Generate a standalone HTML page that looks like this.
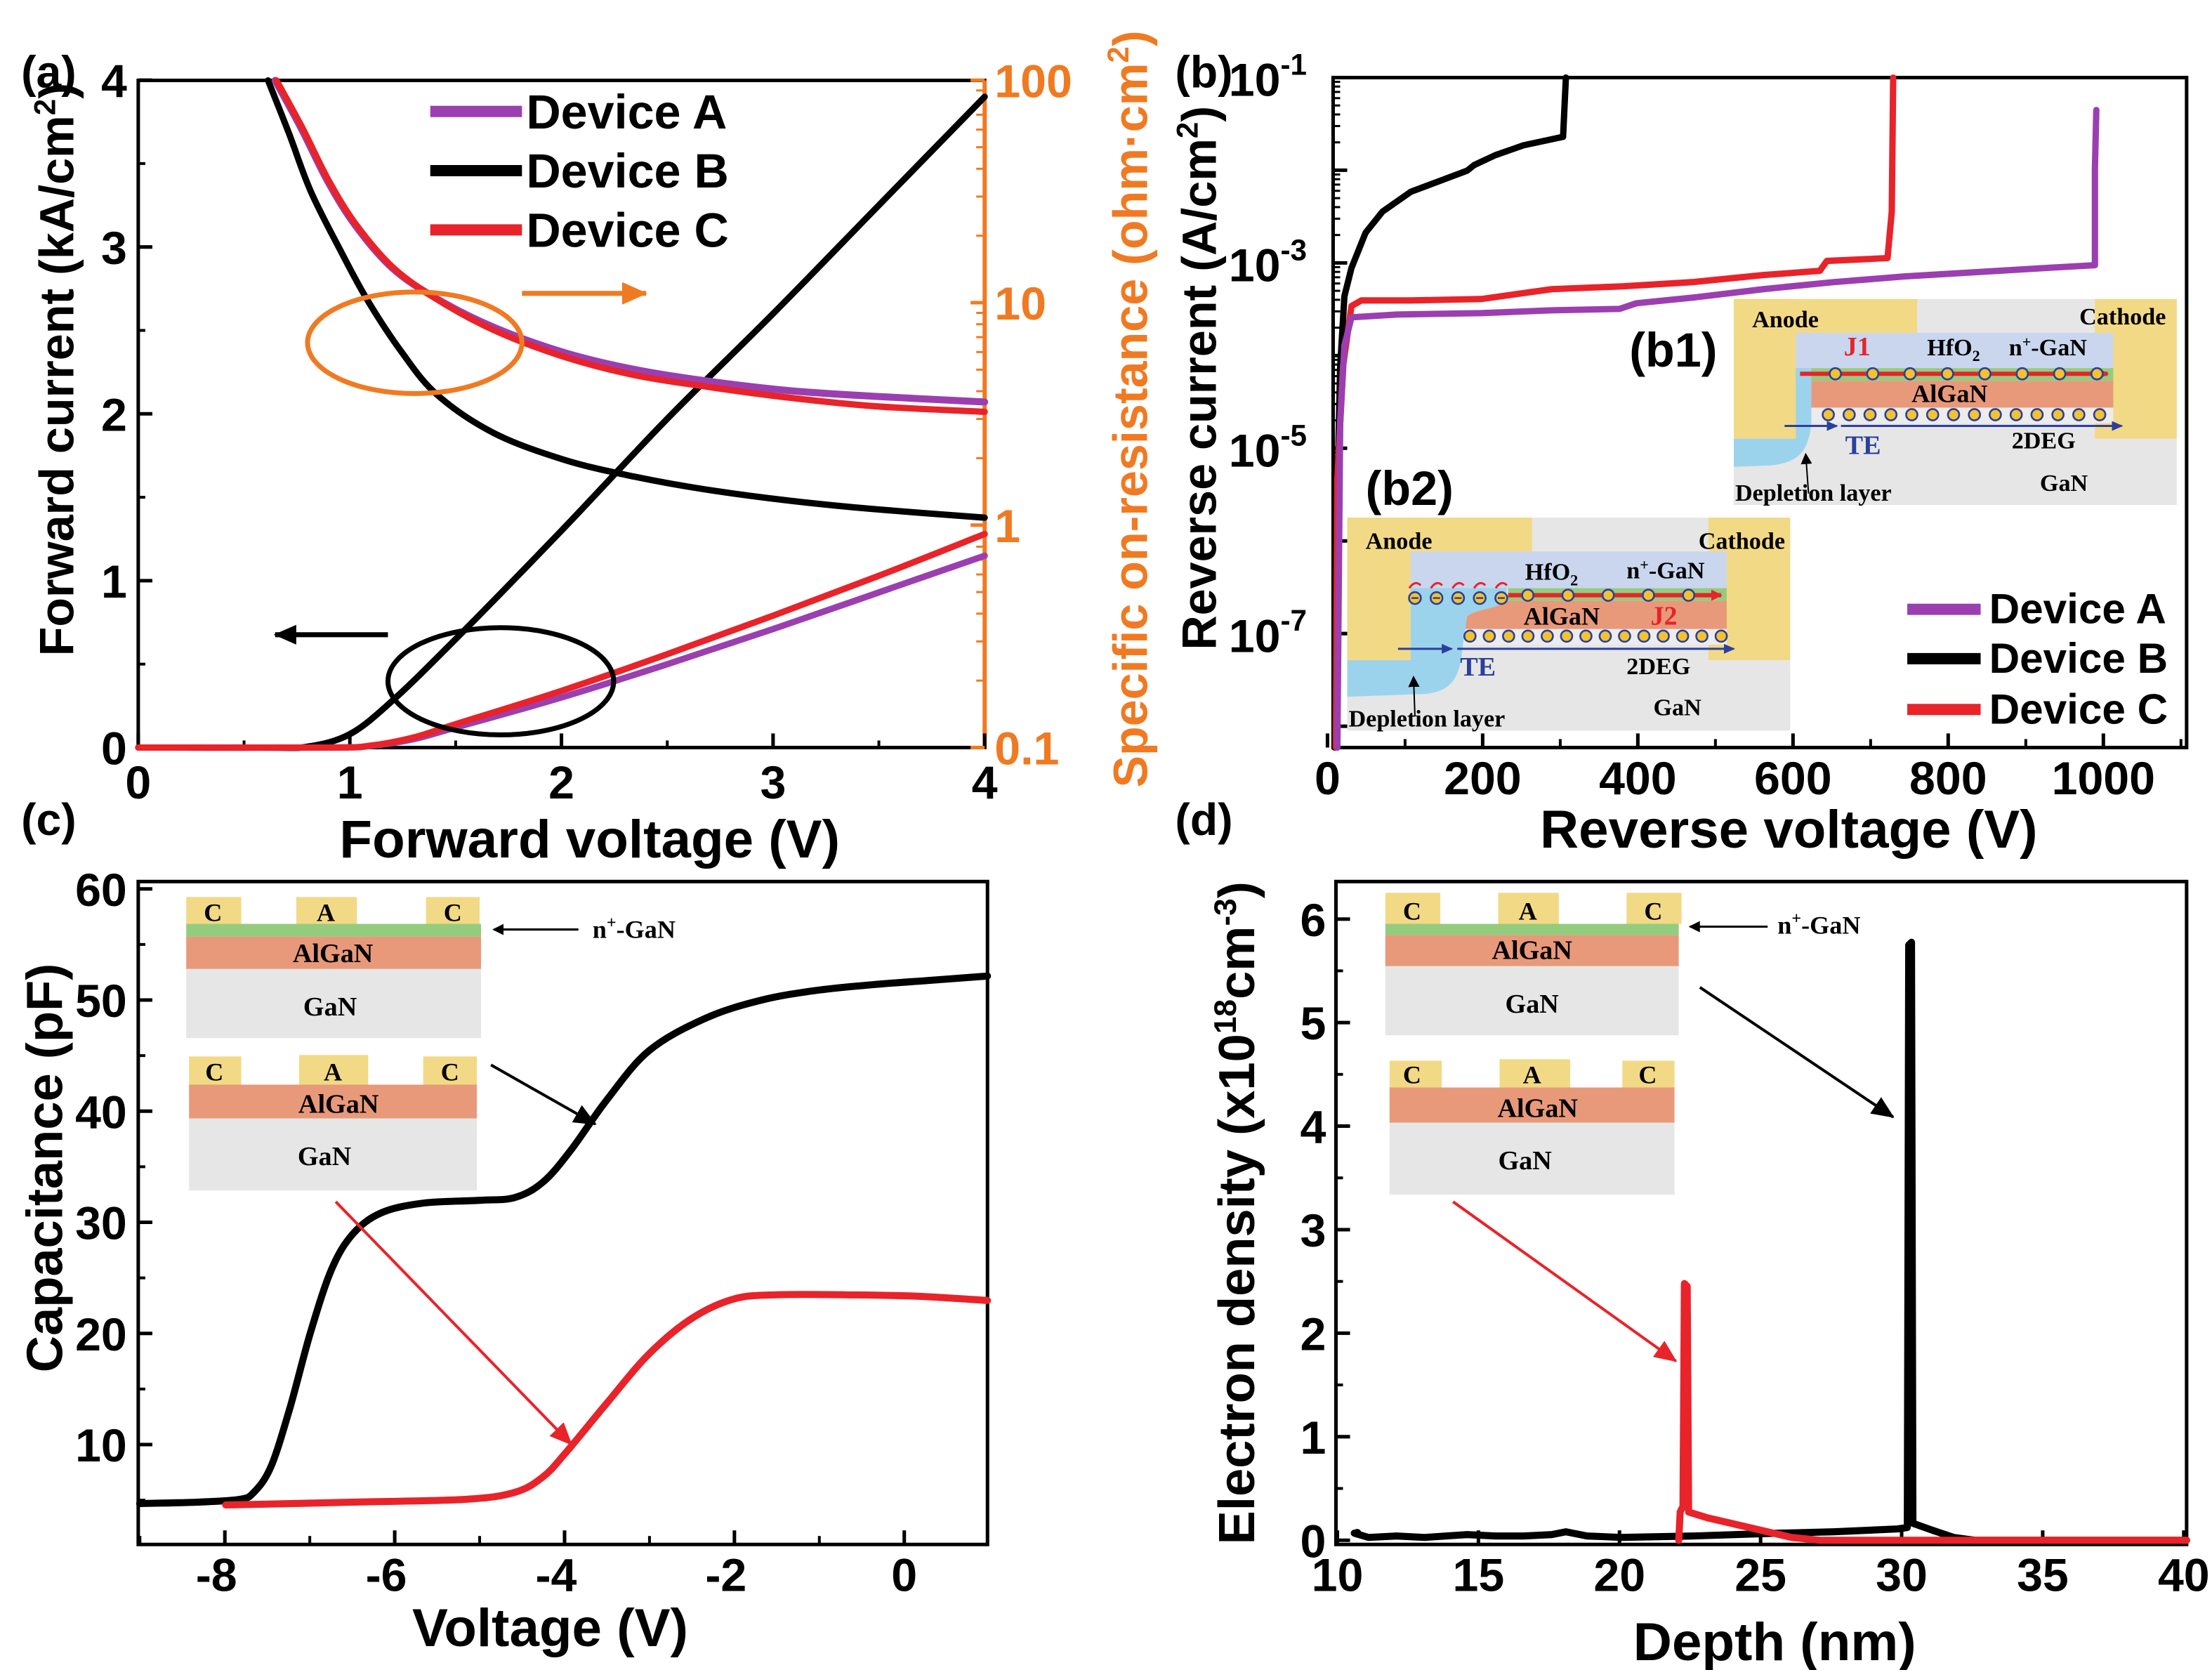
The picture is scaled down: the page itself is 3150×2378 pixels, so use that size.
<!DOCTYPE html>
<html><head><meta charset="utf-8"><style>
html,body{margin:0;padding:0;background:#fff;}
svg{display:block;}
.t{font-family:"Liberation Sans",sans-serif;font-weight:bold;}
.s{font-family:"Liberation Serif",serif;font-weight:bold;}
</style></head><body>
<svg id="svg" width="3150" height="2378" viewBox="0 0 1568 1184" preserveAspectRatio="none" xmlns="http://www.w3.org/2000/svg">
<defs>
<marker id="ak" markerWidth="8" markerHeight="8" refX="7" refY="4" orient="auto" markerUnits="userSpaceOnUse"><path d="M0,0 L8,4 L0,8 z" fill="#000"/></marker>
<marker id="akb" markerWidth="16" markerHeight="14" refX="15" refY="7" orient="auto" markerUnits="userSpaceOnUse"><path d="M0,0 L16,7 L0,14 z" fill="#000"/></marker>
<marker id="ar" markerWidth="16" markerHeight="14" refX="15" refY="7" orient="auto" markerUnits="userSpaceOnUse"><path d="M0,0 L16,7 L0,14 z" fill="#e8232a"/></marker>
<marker id="ao" markerWidth="18" markerHeight="16" refX="17" refY="8" orient="auto" markerUnits="userSpaceOnUse"><path d="M0,0 L18,8 L0,16 z" fill="#f07a22"/></marker>
<marker id="ab" markerWidth="8" markerHeight="7" refX="7" refY="3.5" orient="auto" markerUnits="userSpaceOnUse"><path d="M0,0 L8,3.5 L0,7 z" fill="#2b3f9e"/></marker>
<marker id="arr" markerWidth="8" markerHeight="8" refX="7" refY="4" orient="auto" markerUnits="userSpaceOnUse"><path d="M0,0 L8,4 L0,8 z" fill="#e8232a"/></marker>
</defs>
<g id="g"></g>
</svg>
<script>
var g=document.getElementById('g');var h='';
function cr(p){var d='M'+p[0][0]+','+p[0][1];for(var i=0;i<p.length-1;i++){var p0=p[i-1]||p[i],p1=p[i],p2=p[i+1],p3=p[i+2]||p2;
d+=' C'+(p1[0]+(p2[0]-p0[0])/6).toFixed(1)+','+(p1[1]+(p2[1]-p0[1])/6).toFixed(1)+' '+(p2[0]-(p3[0]-p1[0])/6).toFixed(1)+','+(p2[1]-(p3[1]-p1[1])/6).toFixed(1)+' '+p2[0]+','+p2[1];}return d;}
function path(d,c,w,extra){h+='<path d="'+d+'" fill="none" stroke="'+c+'" stroke-width="'+w+'" stroke-linejoin="round" stroke-linecap="round" '+(extra||'')+'/>';}
function txt(x,y,s,sz,cls,anc,col,extra){h+='<text x="'+x+'" y="'+y+'" font-size="'+sz+'" class="'+cls+'" text-anchor="'+(anc||'start')+'" fill="'+(col||'#000')+'" '+(extra||'')+'>'+s+'</text>';}
function rect(x,y,w,hh,f,extra){h+='<rect x="'+x+'" y="'+y+'" width="'+w+'" height="'+hh+'" fill="'+f+'" '+(extra||'')+'/>';}
function line(x1,y1,x2,y2,c,w,extra){h+='<line x1="'+x1+'" y1="'+y1+'" x2="'+x2+'" y2="'+y2+'" stroke="'+c+'" stroke-width="'+w+'" '+(extra||'')+'/>';}
var PU='#9b3fb0',RD='#e8232a',OR='#f07a22',K='#000';
var TS=33,LS=38,YS=34;

/* ---------- Panel (a) ---------- */
h+='<rect x="98" y="57" width="600" height="473" fill="none" stroke="#000" stroke-width="2.5"/>';
line(698,57,698,530,OR,3);
for(var i=0;i<=4;i++){var y=530-118.3*i;line(98,y,108,y,K,2.5);txt(90,y+12,i,TS,'t','end');}
for(var i=0;i<=8;i++){var y=530-59.15*i;line(98,y,103,y,K,2);}
for(var i=0;i<=4;i++){var x=98+150*i;line(x,530,x,520,K,2.5);txt(x,566,i,TS,'t','middle');}
for(var i=0;i<8;i++){var x=98+75*i;line(x,530,x,525,K,2);}
var rl=['0.1','1','10','100'];
for(var d=0;d<4;d++){var y=530-157.7*d;line(698,y,688,y,OR,2.5);txt(705,y+12,rl[d],TS,'t','start',OR);
 if(d<3)for(var m=2;m<10;m++){var yy=y-157.7*Math.log10(m);line(698,yy,692,yy,OR,1.5);}}
function px(v){return 98+150*v;} function py(i){return 530-118.3*i;}
function conv(a){return a.map(function(q){return [+px(q[0]).toFixed(1),+py(q[1]).toFixed(1)];});}
path(cr(conv([[0,0],[0.6,0],[0.8,0.005],[1.0,0.08],[1.2,0.28],[1.5,0.65],[2,1.3],[2.5,1.97],[3,2.6],[3.5,3.25],[4,3.9]])),K,4.5);
path(cr(conv([[0,0],[0.9,0],[1.1,0.01],[1.3,0.05],[1.5,0.12],[2,0.3],[2.5,0.5],[3,0.71],[3.5,0.93],[4,1.15]])),PU,4.5);
path(cr(conv([[0,0],[0.9,0],[1.1,0.012],[1.3,0.06],[1.5,0.14],[2,0.34],[2.5,0.56],[3,0.79],[3.5,1.03],[4,1.28]])),RD,4.5);
path(cr([[190,57],[205,95],[220,135],[240,175],[260,212],[285,250],[310,280],[350,307],[400,326],[450,338],[500,347],[560,355],[620,361],[698,367]]),K,4.5);
path(cr([[195,57],[213,90],[232,128],[252,160],[278,190],[310,212],[350,232],[400,250],[450,262],[500,270],[560,277],[620,281],[698,285]]),PU,5);
path(cr([[196,57],[214,90],[233,128],[253,160],[279,190],[311,213],[350,234],[400,253],[450,266],[500,274],[560,282],[620,288],[698,292]]),RD,4.5);
h+='<ellipse cx="294" cy="243" rx="76" ry="36" fill="none" stroke="'+OR+'" stroke-width="3.5"/>';
line(370,208,458,208,OR,3.5,'marker-end="url(#ao)"');
h+='<ellipse cx="355" cy="483" rx="80" ry="38" fill="none" stroke="#000" stroke-width="3.5"/>';
line(275,450,195,450,K,3.5,'marker-end="url(#akb)"');
var la=[[PU,'Device A',79],[K,'Device B',121],[RD,'Device C',163]];
la.forEach(function(l){line(305,l[2],370,l[2],l[0],8);txt(373,l[2]+12,l[1],34,'t');});
txt(15,62,'(a)',32,'t');
txt(418,608,'Forward voltage (V)',LS,'t','middle');
txt(0,0,'Forward current (kA/cm<tspan font-size="21" dy="-13">2</tspan><tspan dy="13">)</tspan>',YS,'t','middle','#000','transform="translate(52,262) rotate(-90)"');
txt(0,0,'Specific on-resistance (ohm·cm<tspan font-size="21" dy="-13">2</tspan><tspan dy="13">)</tspan>',YS,'t','middle',OR,'transform="translate(813,290) rotate(-90)"');

/* ---------- Panel (b) ---------- */
h+='<rect x="945" y="55" width="605" height="475" fill="none" stroke="#000" stroke-width="2.5"/>';
var dec=65.7;
var bl=['-1','-3','-5','-7'];
for(var d=0;d<4;d++){var y=55+2*dec*d;txt(871,y+13,'10<tspan font-size="21" dy="-15">'+bl[d]+'</tspan>',TS,'t','start');}
for(var d=-1;d<8;d++){var y0=55+dec*d;line(945,y0,955,y0,K,2.5);for(var m=2;m<10;m++){var yy=y0+dec-dec*Math.log10(m);if(yy<530&&yy>55)line(945,yy,950,yy,K,1.5);}}
function bx(v){return 941+0.55*v;}
for(var v=0;v<=1000;v+=200){var x=bx(v);line(x,530,x,520,K,2.5);txt(x,563,v,TS,'t','middle');}
for(var v=100;v<=1100;v+=200){var x=bx(v);if(x<1550)line(x,530,x,524,K,2);}
path('M946,530 L948,350 L950,260 L953,210 L958,190 L968,165 L980,150 L1000,136 L1040,121 L1045,117 L1060,110 L1080,103 L1108,97 L1110,55',K,4.5);
path('M947,530 L948,340 L952,260 L958,217 L965,213 L1000,213 L1050,212 L1100,205 L1150,203 L1200,200 L1250,195 L1290,192 L1295,185 L1338,183 L1341,150 L1342,55',RD,4.5);
path('M948,530 L950,300 L953,245 L958,225 L990,223 L1050,222 L1100,220 L1148,219 L1160,215 L1200,211 L1250,205 L1300,200 L1350,196 L1400,193 L1450,190 L1485,188 L1485,120 L1486,78',PU,4.5);
var lb=[[PU,'Device A',432],[K,'Device B',467],[RD,'Device C',503]];
lb.forEach(function(l){line(1352,l[2],1404,l[2],l[0],8);txt(1410,l[2]+10,l[1],30,'t');});
txt(833,62,'(b)',32,'t');
txt(1268,601,'Reverse voltage (V)',LS,'t','middle');
txt(0,0,'Reverse current (A/cm<tspan font-size="21" dy="-13">2</tspan><tspan dy="13">)</tspan>',YS,'t','middle','#000','transform="translate(862,268) rotate(-90)"');

var GO='#f2d985',GR='#e6e6e6',LB='#c9d6ee',GN='#94cc7e',AL='#e8997a',DB='#9bd3ec';
rect(1229,212,314,146,GR);
rect(1229,212,130,24,GO);rect(1229,212,44,99,GO);
rect(1485,212,58,99,GO);
rect(1273,236,225,25,LB);
rect(1273,261,225,9,GN);
rect(1284,270,214,19,AL);
rect(1284,289,214,11,'#ececec');
h+='<path d="M1229,311 L1273,311 L1273,261 L1284,261 L1284,300 C1282,320 1275,328 1255,330 L1229,331 Z" fill="'+DB+'"/>';
line(1276,265,1494,265,RD,3,'marker-end="url(#arr)"');
for(var i=0;i<8;i++){h+='<circle cx="'+(1301+i*26.5)+'" cy="265" r="4" fill="#f2c230" stroke="#2b3f9e" stroke-width="1.3"/>';}
for(var i=0;i<14;i++){h+='<circle cx="'+(1296+i*14.8)+'" cy="294" r="4" fill="#f2c230" stroke="#2b3f9e" stroke-width="1.3"/>';}
line(1265,302,1302,302,'#2b3f9e',1.5,'marker-end="url(#ab)"');
line(1305,302,1504,302,'#2b3f9e',1.5,'marker-end="url(#ab)"');
line(1282,350,1280,322,K,1,'marker-end="url(#ak)"');
txt(1242,232,'Anode',17,'s');txt(1474,230,'Cathode',17,'s');
txt(1307,252,'J1',19,'s','start',RD);txt(1366,252,'HfO<tspan font-size="11" dy="4">2</tspan>',17,'s');
txt(1424,252,'n<tspan font-size="11" dy="-6">+</tspan><tspan dy="6">-GaN</tspan>',17,'s');
txt(1355,285,'AlGaN',18,'s');txt(1308,322,'TE',19,'s','start','#2b3f9e');txt(1426,318,'2DEG',17,'s');
txt(1446,348,'GaN',17,'s');txt(1230,355,'Depletion layer',17,'s');
txt(1155,260,'(b1)',34,'t');
rect(955,367,314,151,GR);
rect(955,367,131,24,GO);rect(955,367,45,101,GO);
rect(1211,367,58,101,GO);
rect(1000,391,224,26,LB);
rect(1069,417,155,9,GN);
h+='<path d="M1037,446 L1040,437 C1045,432 1060,432 1068,426 L1224,426 L1224,446 Z" fill="'+AL+'"/>';
rect(1037,446,187,11,'#ececec');
h+='<path d="M955,468 L1000,468 L1000,417 L1068,417 L1068,426 C1060,432 1045,432 1040,437 L1037,457 C1035,480 1030,490 1010,492 L955,494 Z" fill="'+DB+'"/>';
line(1069,422,1220,422,RD,3,'marker-end="url(#arr)"');
for(var i=0;i<5;i++){var cc=1003+i*15.3;h+='<circle cx="'+cc+'" cy="424" r="4.2" fill="#f2c230" stroke="#2b3f9e" stroke-width="1.3"/><line x1="'+(cc-2.5)+'" y1="424" x2="'+(cc+2.5)+'" y2="424" stroke="#2b3f9e" stroke-width="1.2"/><path d="M'+(cc-4)+',417 q4,-6 8,-2" fill="none" stroke="'+RD+'" stroke-width="1.5"/>';}
for(var i=0;i<5;i++){h+='<circle cx="'+(1083+i*28.5)+'" cy="422" r="4" fill="#f2c230" stroke="#2b3f9e" stroke-width="1.3"/>';}
for(var i=0;i<14;i++){h+='<circle cx="'+(1042+i*13.7)+'" cy="451" r="4" fill="#f2c230" stroke="#2b3f9e" stroke-width="1.3"/>';}
line(991,460,1029,460,'#2b3f9e',1.5,'marker-end="url(#ab)"');
line(1033,460,1229,460,'#2b3f9e',1.5,'marker-end="url(#ab)"');
line(1003,508,1002,480,K,1,'marker-end="url(#ak)"');
txt(968,389,'Anode',17,'s');txt(1204,389,'Cathode',17,'s');
txt(1081,411,'HfO<tspan font-size="11" dy="4">2</tspan>',17,'s');
txt(1153,410,'n<tspan font-size="11" dy="-6">+</tspan><tspan dy="6">-GaN</tspan>',17,'s');
txt(1080,443,'AlGaN',18,'s');txt(1170,443,'J2',19,'s','start',RD);
txt(1035,479,'TE',19,'s','start','#2b3f9e');txt(1153,478,'2DEG',17,'s');
txt(1172,507,'GaN',17,'s');txt(956,515,'Depletion layer',17,'s');
txt(968,358,'(b2)',34,'t');

/* ---------- Panel (c) ---------- */
h+='<rect x="98" y="625" width="602" height="470" fill="none" stroke="#000" stroke-width="2.5"/>';
function cyf(v){return 1103-7.88*v;} function cxf(v){return 641+60.2*v;}
for(var v=10;v<=60;v+=10){var y=cyf(v);line(98,y,108,y,K,2.5);txt(90,y+12,v,TS,'t','end');}
for(var v=5;v<=55;v+=10){var y=cyf(v);line(98,y,103,y,K,2);}
for(var v=-8;v<=0;v+=2){var x=cxf(v);line(x,1095,x,1085,K,2.5);txt(x+(v<0?-6:0),1128,(v<0?'-':'')+Math.abs(v),TS,'t','middle');}
for(var v=-9;v<=1;v+=2){var x=cxf(v);if(x>99&&x<700)line(x,1095,x,1089,K,2);}
path(cr([[99,1066],[140,1065],[170,1063],[180,1058],[192,1040],[205,1000],[220,945],[235,900],[250,875],[270,860],[300,853],[340,851],[365,849],[385,838],[405,815],[430,780],[460,745],[500,722],[540,709],[580,702],[620,698],[660,695],[700,692]]),K,5);
path(cr([[160,1067],[250,1065],[330,1063],[365,1058],[385,1047],[401,1030],[430,995],[460,960],[490,935],[520,921],[550,918],[600,918],[650,919],[700,922]]),RD,5);
rect(132,636,39,20,GO);rect(210,636,43,20,GO);rect(302,636,38,20,GO);
rect(132,655,209,9,GN);rect(132,664,209,23,AL);rect(132,687,209,49,GR);
txt(151,653,'C',18,'s','middle');txt(231,653,'A',18,'s','middle');txt(321,653,'C',18,'s','middle');
txt(236,682,'AlGaN',19,'s','middle');txt(234,720,'GaN',19,'s','middle');
line(410,659,350,659,K,1.5,'marker-end="url(#ak)"');
txt(420,665,'n<tspan font-size="12" dy="-7">+</tspan><tspan dy="7">-GaN</tspan>',18,'s');
rect(134,749,37,20,GO);rect(212,748,49,21,GO);rect(300,749,38,20,GO);
rect(134,769,204,24,AL);rect(134,793,204,51,GR);
txt(152,766,'C',18,'s','middle');txt(236,766,'A',18,'s','middle');txt(319,766,'C',18,'s','middle');
txt(240,789,'AlGaN',19,'s','middle');txt(230,826,'GaN',19,'s','middle');
line(348,755,422,797,K,2,'marker-end="url(#akb)"');
line(238,852,405,1024,RD,2,'marker-end="url(#ar)"');
txt(15,592,'(c)',32,'t');
txt(390,1167,'Voltage (V)',LS,'t','middle');
txt(0,0,'Capacitance (pF)',36,'t','middle','#000','transform="translate(44,828) rotate(-90)"');

/* ---------- Panel (d) ---------- */
h+='<rect x="947" y="625" width="603" height="470" fill="none" stroke="#000" stroke-width="2.5"/>';
function dyf(v){return 1092-73.4*v;} function dxf(v){return 948+20*(v-10);}
for(var v=0;v<=6;v++){var y=dyf(v);line(947,y,957,y,K,2.5);txt(940,y+12,v,TS,'t','end');}
for(var v=0.5;v<6.3;v+=1){var y=dyf(v);line(947,y,952,y,K,2);}
for(var v=10;v<=40;v+=5){var x=dxf(v);line(x,1095,x,1085,K,2.5);txt(x,1128,v,TS,'t','middle');}
path('M960,1087 L970,1090 L990,1089 L1010,1090 L1040,1088 L1060,1089 L1080,1089 L1100,1088 L1110,1086 L1125,1089 L1150,1090 L1200,1089 L1260,1087 L1300,1086 L1345,1084 L1352,1083 L1353,670 L1355,668 L1356,1080 L1370,1085 L1385,1090 L1400,1092 L1550,1092',K,5);
h+='<circle cx="962" cy="1087" r="3" fill="#000"/>';
path('M1190,1092 L1191,1072 L1193,1068 L1194,910 L1196,912 L1197,1072 L1210,1076 L1240,1083 L1270,1090 L1290,1092 L1550,1092',RD,5);
rect(982,633,39,22,GO);rect(1062,633,43,22,GO);rect(1153,633,39,22,GO);
rect(982,655,208,8,GN);rect(982,663,208,22,AL);rect(982,685,208,49,GR);
txt(1001,652,'C',18,'s','middle');txt(1083,652,'A',18,'s','middle');txt(1172,652,'C',18,'s','middle');
txt(1086,680,'AlGaN',19,'s','middle');txt(1086,718,'GaN',19,'s','middle');
line(1253,657,1198,657,K,1.5,'marker-end="url(#ak)"');
txt(1260,662,'n<tspan font-size="12" dy="-7">+</tspan><tspan dy="7">-GaN</tspan>',18,'s');
rect(985,752,37,19,GO);rect(1063,751,50,20,GO);rect(1150,752,37,19,GO);
rect(985,771,202,25,AL);rect(985,796,202,51,GR);
txt(1001,768,'C',18,'s','middle');txt(1086,768,'A',18,'s','middle');txt(1168,768,'C',18,'s','middle');
txt(1090,792,'AlGaN',19,'s','middle');txt(1081,829,'GaN',19,'s','middle');
line(1205,700,1342,792,K,2,'marker-end="url(#akb)"');
line(1030,852,1188,965,RD,2,'marker-end="url(#ar)"');
txt(833,592,'(d)',32,'t');
txt(1258,1177,'Depth (nm)',LS,'t','middle');
txt(0,0,'Electron density (x10<tspan font-size="22" dy="-13">18</tspan><tspan dy="13">cm</tspan><tspan font-size="22" dy="-13">-3</tspan><tspan dy="13">)</tspan>',36,'t','middle','#000','transform="translate(889,860) rotate(-90)"');

g.innerHTML=h;
</script>
</body></html>
